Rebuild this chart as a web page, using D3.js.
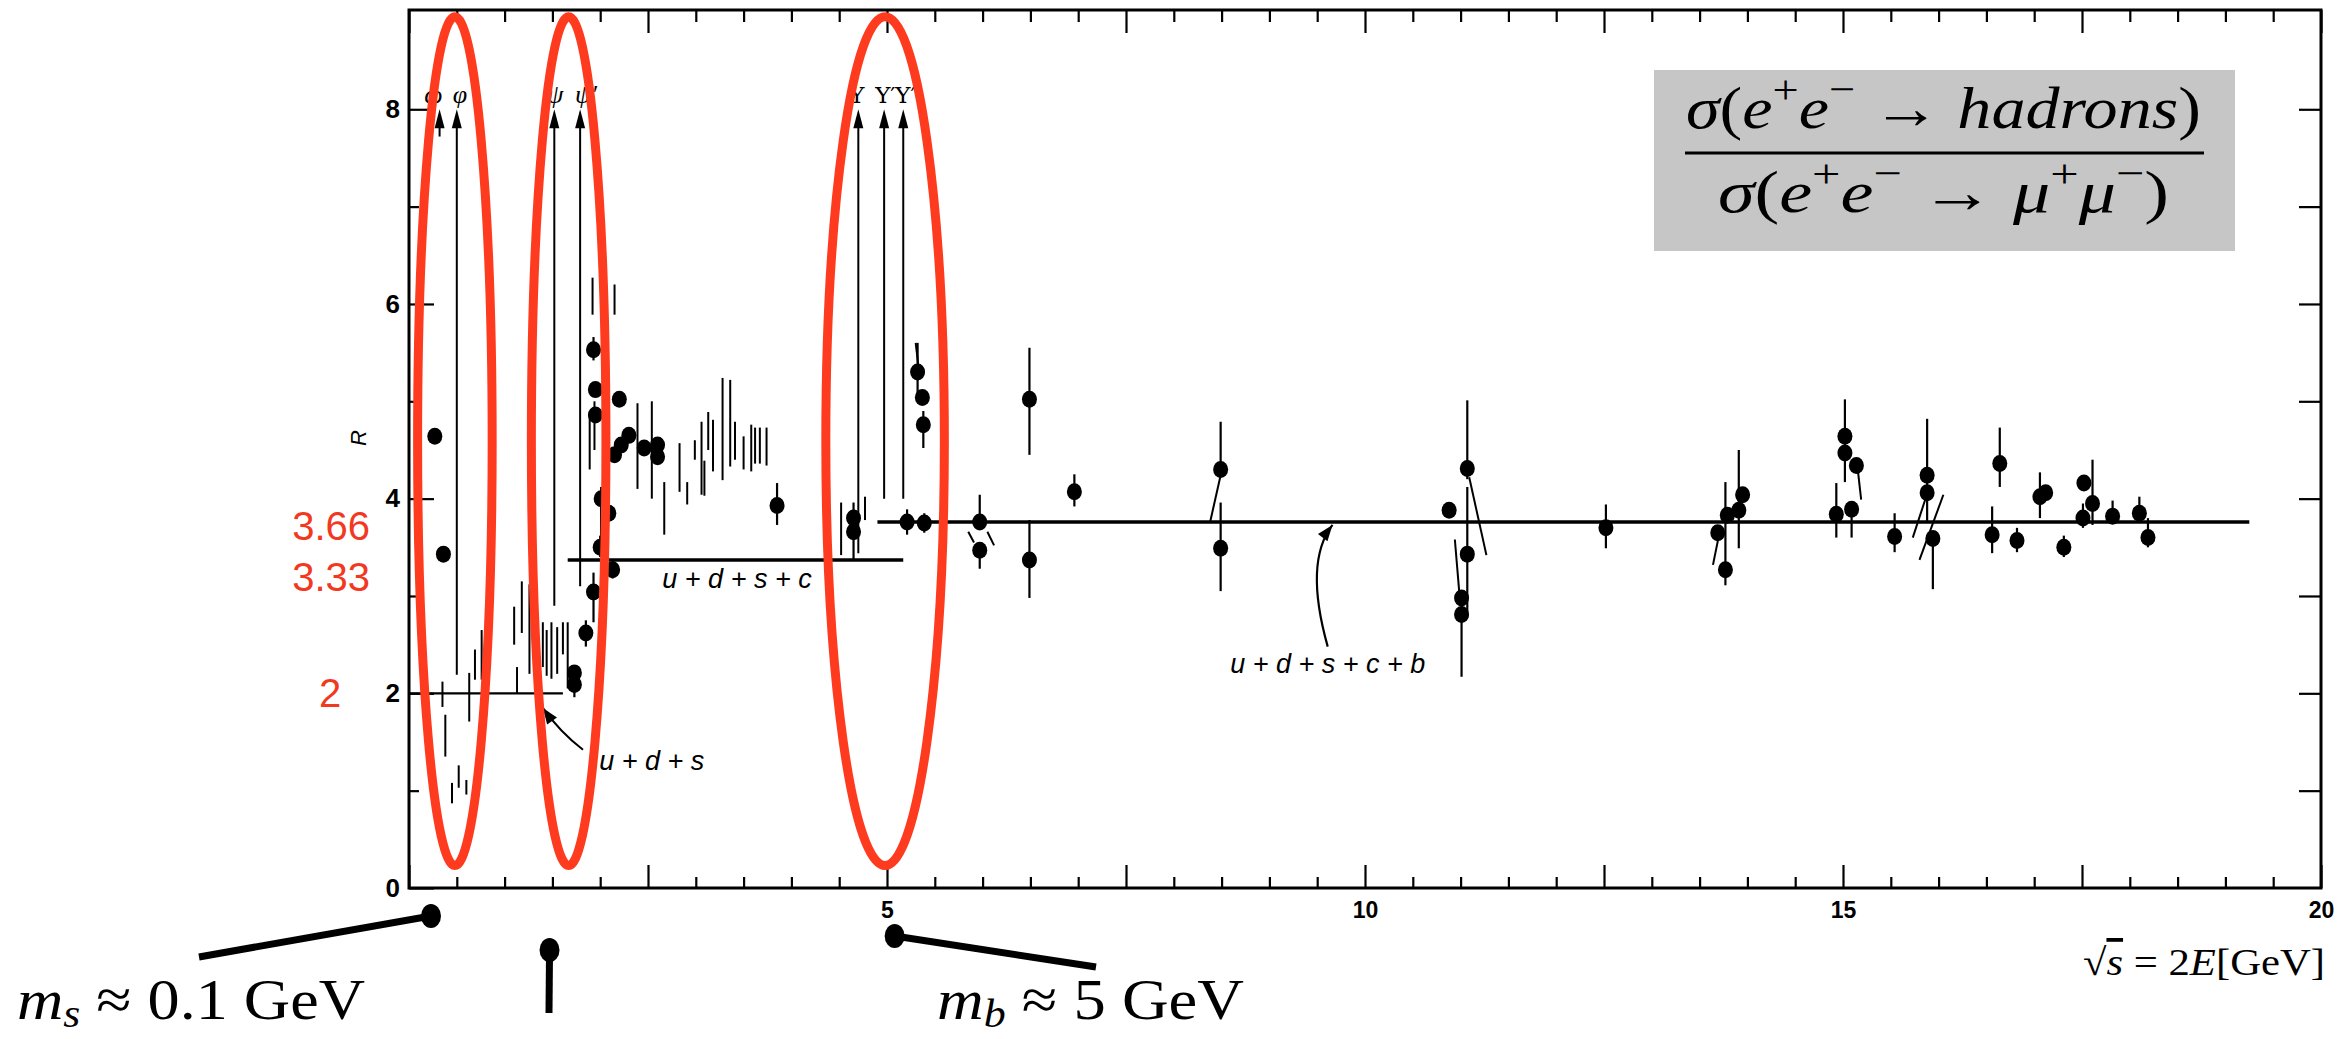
<!DOCTYPE html>
<html>
<head>
<meta charset="utf-8">
<script src="https://cdn.jsdelivr.net/npm/d3@7"></script>
<style>
body{margin:0;background:#fff;}
svg{display:block;}
</style>
</head>
<body>
<script>
const W = 2342, H = 1039;
const svg = d3.select("body").append("svg").attr("width", W).attr("height", H);
const red = "#ff3b1f";
const serif = "'Liberation Serif', 'DejaVu Serif', serif";
const sans = "'Liberation Sans', Arial, sans-serif";

// axis ticks / labels (x is the relabelled energy axis)
const xLabels = [5, 10, 15, 20];
const xMajor = [0, 2.5, 5, 7.5, 10, 12.5, 15, 17.5, 20];
const xMinor = [0.5,1,1.5,2,3,3.5,4,4.5,5.5,6,6.5,7,8,8.5,9,9.5,10.5,11,11.5,12,13,13.5,14,14.5,15.5,16,16.5,17,18,18.5,19,19.5];
const yLabels = [0, 2, 4, 6, 8];
const yMinor = [1, 3, 5, 7];
const yRight = [1, 2, 3, 4, 5, 6, 7, 8];

// measured points: [E, R, bar low, bar high]
const points = [
  [0.27,4.64,null,null],[0.36,3.43,null,null],
  [1.73,2.21,1.96,2.27],[1.73,2.09,null,null],[1.85,2.62,2.48,2.75],[1.93,3.04,2.73,3.24],
  [2.00,3.50,3.40,3.62],[2.01,4.00,3.58,4.12],[2.09,3.85,null,null],[2.13,3.27,3.18,3.36],
  [1.93,5.53,5.42,5.66],[1.95,5.12,null,null],[1.95,4.86,null,null],[2.20,5.02,null,null],
  [2.15,4.45,null,null],[2.22,4.55,null,null],[2.30,4.65,null,null],[2.46,4.52,null,null],
  [2.60,4.55,null,null],[2.60,4.43,null,null],
  [3.85,3.93,3.73,4.16],[4.65,3.80,3.37,3.96],[4.65,3.66,null,null],
  [5.21,3.76,3.63,3.89],[5.39,3.75,3.65,3.85],[5.32,5.30,5.05,5.60],[5.37,5.04,null,null],[5.38,4.76,4.52,4.90],
  [5.97,3.76,3.70,4.04],[5.97,3.47,3.28,3.53],[6.49,5.02,4.45,5.55],[6.49,3.37,2.98,3.78],
  [6.96,4.07,3.92,4.25],[8.49,4.30,4.22,4.79],[8.49,3.49,3.05,3.96],
  [10.88,3.88,null,null],[11.07,4.31,4.20,5.01],[11.07,3.43,2.78,4.12],[11.01,2.98,null,null],[11.01,2.81,2.17,2.98],
  [12.52,3.70,3.49,3.94],
  [13.69,3.65,null,null],[13.77,3.27,3.11,4.17],[13.79,3.83,null,null],[13.91,3.88,3.49,4.50],[13.95,4.04,null,null],
  [15.02,4.64,4.17,5.02],[15.02,4.47,null,null],[15.14,4.34,null,null],[14.93,3.84,3.60,4.16],[15.09,3.89,3.60,3.95],
  [15.54,3.61,3.45,3.85],[15.88,4.24,3.75,4.82],[15.88,4.06,null,null],[15.94,3.59,3.07,3.61],
  [16.56,3.63,3.44,3.92],[16.64,4.36,4.12,4.73],[16.82,3.57,3.45,3.70],
  [17.06,4.02,3.80,4.27],[17.12,4.06,null,null],[17.31,3.50,3.40,3.62],
  [17.52,4.16,null,null],[17.61,3.95,3.73,4.40],[17.51,3.80,3.70,3.95],[17.82,3.82,3.76,3.98],
  [18.10,3.85,3.75,4.02],[18.19,3.60,3.50,3.80]
];

// error bars drawn without a dot: [E, low, high]
const bars = [
  [0.35,1.86,2.12],[0.38,1.35,1.78],[0.45,0.87,1.08],[0.52,1.03,1.26],[0.60,0.96,1.11],
  [0.63,1.71,2.21],[0.69,2.14,2.45],[0.76,2.14,2.65],
  [1.10,2.50,2.89],[1.13,2.00,2.27],[1.18,2.62,3.15],[1.26,2.20,3.12],
  [1.40,2.27,2.73],[1.44,2.18,2.65],[1.49,2.15,2.73],[1.55,2.20,2.68],[1.61,2.40,2.73],[1.66,2.05,2.73],
  [1.92,5.89,6.27],[2.15,5.89,6.20],[1.89,4.30,4.85],[1.94,4.50,5.00],[2.39,4.10,4.98],[2.54,4.00,5.00],[2.67,3.63,4.17],
  [2.83,4.07,4.57],[2.91,3.94,4.17],[2.99,4.40,4.60],[3.06,4.04,4.79],[3.09,4.03,4.39],[3.13,4.50,4.89],
  [3.18,4.28,4.81],[3.28,4.19,5.24],[3.36,4.33,5.22],[3.41,4.40,4.79],[3.50,4.30,4.64],[3.58,4.28,4.76],
  [3.62,4.36,4.73],[3.67,4.36,4.73],[3.74,4.34,4.73],
  [4.52,3.42,3.96],[4.77,3.78,4.02]
];

// slanted error bars: [E1, R1, E2, R2]
const stems = [
  [8.38,3.76,8.49,4.24],[11.09,4.22,11.27,3.42],[10.94,3.58,10.99,2.99],[13.64,3.32,13.71,3.66],
  [15.15,4.34,15.19,3.99],[15.73,3.60,15.87,4.02],[15.80,3.37,16.05,4.04],
  [5.85,3.66,5.91,3.55],[6.05,3.66,6.12,3.52],[5.30,5.60,5.33,5.35]
];

// resonances marked with arrows
const resNames = ["ω", "φ", "ψ", "ψ′", "Υ", "Υ′", "Υ″"];
const resE = [0.32, 0.50, 1.52, 1.79, 4.70, 4.97, 5.17];
const resFoot = [7.72, 2.19, 2.90, 3.10, 3.44, 4.00, 4.00];
const resTip = 8.0;

// quark-model expectations
const modelLabels = ["u + d + s", "u + d + s + c", "u + d + s + c + b"];
const modelR = [2.0, 3.37, 3.76];
const modelFrom = [0, 1.66, 4.9];
const modelTo = [1.61, 5.17, 19.25];

// red annotations
const redLabels = ["3.66", "3.33", "2"];
const redLabelR = [3.72, 3.19, 2.0];
const ovalE = [0.48, 1.67, 4.98];
const ovalHalf = [0.39, 0.39, 0.62];
const ovalR = [0.23, 8.95];

const xScale = d3.scaleLinear().domain([0, 20]).range([409, 2321]);
const yScale = d3.scaleLinear().domain([0, 9.02]).range([888, 10]);

let createAxes=()=>{
    svg.append("rect").attr("x", 409).attr("y", 10)
        .attr("width", xScale(20)-xScale(0)).attr("height", yScale(0)-yScale(9.02))
        .attr("fill", "none").attr("stroke", "#000").attr("stroke-width", 3);

    let put=(axis, tr)=>{
        let g = svg.append("g").attr("transform", tr).call(axis);
        g.select(".domain").remove();
        g.selectAll("line").attr("stroke-width", 2.2);
        g.attr("font-family", sans).attr("font-weight", "bold");
        return g;
    };
    put(d3.axisBottom(xScale).tickValues(xMajor).tickSize(-23).tickPadding(14)
        .tickFormat(d=> xLabels.includes(d) ? d : ""), "translate(0,888)").attr("font-size", 23);
    put(d3.axisBottom(xScale).tickValues(xMinor).tickSize(-11).tickFormat(""), "translate(0,888)");
    put(d3.axisTop(xScale).tickValues(xMajor).tickSize(-23).tickFormat(""), "translate(0,10)");
    put(d3.axisTop(xScale).tickValues(xMinor).tickSize(-12).tickFormat(""), "translate(0,10)");
    put(d3.axisLeft(yScale).tickValues(yLabels).tickSize(-25).tickPadding(9), "translate(409,0)").attr("font-size", 26);
    put(d3.axisLeft(yScale).tickValues(yMinor).tickSize(-10).tickFormat(""), "translate(409,0)");
    put(d3.axisRight(yScale).tickValues(yRight).tickSize(-22).tickFormat(""), "translate(2321,0)");

    svg.append("text").attr("transform", "translate(366,438) rotate(-90)")
        .attr("text-anchor", "middle").attr("font-family", sans).attr("font-style", "italic")
        .attr("font-size", 22).text("R");
};

let createModels=()=>{
    svg.selectAll(".model").data(modelR).enter().append("line").attr("class", "model")
        .attr("x1", (d,i)=>xScale(modelFrom[i])).attr("x2", (d,i)=>xScale(modelTo[i]))
        .attr("y1", d=>yScale(d)).attr("y2", d=>yScale(d))
        .attr("stroke", "#000").attr("stroke-width", (d,i)=> i==0 ? 2.2 : 3.5);

    const labelE = [1.99, 2.65, 8.59], labelR = [1.21, 3.08, 2.21];
    svg.selectAll(".mlabel").data(modelLabels).enter().append("text").attr("class", "mlabel")
        .attr("x", (d,i)=>xScale(labelE[i])).attr("y", (d,i)=>yScale(labelR[i]))
        .attr("font-family", sans).attr("font-style", "italic").attr("font-size", 27)
        .attr("xml:space", "preserve").text(d=>d);

    // pointer arrows
    let head=(x, y, ang)=>{
        let a = ang, L = 16, w = 6;
        let bx = x - L*Math.cos(a), by = y - L*Math.sin(a);
        svg.append("path").attr("d", "M"+x+","+y+"L"+(bx + w*Math.sin(a))+","+(by - w*Math.cos(a))
            +"L"+(bx - w*Math.sin(a))+","+(by + w*Math.cos(a))+"Z").attr("fill", "#000");
    };
    let p0 = [xScale(1.82), yScale(1.42)], p1 = [xScale(1.40), yScale(1.85)];
    svg.append("path").attr("d", "M"+p0+"Q"+[xScale(1.58), yScale(1.60)]+" "+p1)
        .attr("fill", "none").attr("stroke", "#000").attr("stroke-width", 2);
    head(p1[0], p1[1], Math.atan2(p1[1]-yScale(1.60), p1[0]-xScale(1.58)));

    let q0 = [xScale(9.61), yScale(2.48)], qc = [xScale(9.36), yScale(3.35)], q1 = [xScale(9.66), yScale(3.73)];
    svg.append("path").attr("d", "M"+q0+"Q"+qc+" "+q1)
        .attr("fill", "none").attr("stroke", "#000").attr("stroke-width", 2.2);
    head(q1[0], q1[1], Math.atan2(q1[1]-qc[1], q1[0]-qc[0]));
};

let plotData=()=>{
    svg.selectAll(".bar").data(bars).enter().append("line").attr("class", "bar")
        .attr("x1", d=>xScale(d[0])).attr("x2", d=>xScale(d[0]))
        .attr("y1", d=>yScale(d[1])).attr("y2", d=>yScale(d[2]))
        .attr("stroke", "#000").attr("stroke-width", 2);

    svg.selectAll(".err").data(points.filter(d=>d[2]!=null)).enter().append("line").attr("class", "err")
        .attr("x1", d=>xScale(d[0])).attr("x2", d=>xScale(d[0]))
        .attr("y1", d=>yScale(d[2])).attr("y2", d=>yScale(d[3]))
        .attr("stroke", "#000").attr("stroke-width", 2.2);

    svg.selectAll(".stem").data(stems).enter().append("line").attr("class", "stem")
        .attr("x1", d=>xScale(d[0])).attr("y1", d=>yScale(d[1]))
        .attr("x2", d=>xScale(d[2])).attr("y2", d=>yScale(d[3]))
        .attr("stroke", "#000").attr("stroke-width", 2);

    svg.selectAll(".dot").data(points).enter().append("ellipse").attr("class", "dot")
        .attr("cx", d=>xScale(d[0])).attr("cy", d=>yScale(d[1]))
        .attr("rx", 7.5).attr("ry", 8.5).attr("fill", "#000");
};

let createResonances=()=>{
    // label placement next to each arrow
    const anchor = ["end", "start", "middle", "start", "start", "start", "start"];
    const nudge = [3, -4, 1, -5, -9, -9, -8];
    resE.forEach((e, i)=>{
        let x = xScale(e), yt = yScale(resTip);
        svg.append("line").attr("x1", x).attr("x2", x).attr("y1", yt + 10).attr("y2", yScale(resFoot[i]))
            .attr("stroke", "#000").attr("stroke-width", 2);
        svg.append("path").attr("d", "M"+x+","+yt+"L"+(x-5)+","+(yt+19)+"L"+(x+5)+","+(yt+19)+"Z")
            .attr("fill", "#000");
        svg.append("text").attr("x", x + nudge[i]).attr("y", yt - 6)
            .attr("text-anchor", anchor[i])
            .attr("font-family", i < 4 ? serif : "'DejaVu Serif', serif")
            .attr("font-size", i < 4 ? 26 : 23)
            .attr("font-style", i < 4 ? "italic" : "normal").text(resNames[i]);
    });
};

let createOvals=()=>{
    svg.selectAll(".oval").data(ovalE).enter().append("ellipse").attr("class", "oval")
        .attr("cx", d=>xScale(d)).attr("rx", (d,i)=>xScale(ovalHalf[i]) - xScale(0))
        .attr("cy", (yScale(ovalR[0]) + yScale(ovalR[1]))/2)
        .attr("ry", (yScale(ovalR[0]) - yScale(ovalR[1]))/2)
        .attr("fill", "none").attr("stroke", red).attr("stroke-width", 9);

    svg.selectAll(".rlabel").data(redLabels).enter().append("text").attr("class", "rlabel")
        .attr("x", (d,i)=> i==2 ? 330 : 370).attr("y", (d,i)=>yScale(redLabelR[i]) + 14)
        .attr("text-anchor", (d,i)=> i==2 ? "middle" : "end")
        .attr("font-family", sans).attr("font-size", 40).attr("fill", "#f2391f").text(d=>d);
};

// text built from [string, kind] pieces: i = italic, sup / sub = raised / lowered
let mathText=(parts, x, y, size, width)=>{
    let t = svg.append("text").attr("x", x).attr("y", y)
        .attr("font-family", serif).attr("font-size", size).attr("xml:space", "preserve");
    let shift = 0;
    parts.forEach(p=>{
        let kind = p[1], target = 0;
        if(kind.includes("sup")) target = -0.42*size;
        if(kind.includes("sub")) target = 0.14*size;
        let s = t.append("tspan").text(p[0]).attr("dy", target - shift);
        shift = target;
        if(kind.includes("i")) s.attr("font-style", "italic");
        if(target != 0) s.attr("font-size", size*0.68);
        if(kind.includes("o")) s.attr("text-decoration", "overline");
    });
    if(width) t.attr("textLength", width).attr("lengthAdjust", "spacingAndGlyphs");
    return t;
};

let createFormula=()=>{
    svg.append("rect").attr("x", 1654).attr("y", 70).attr("width", 581).attr("height", 181)
        .attr("fill", "#c6c6c6");
    mathText([["σ","i"],["(",""],["e","i"],["+","sup"],["e","i"],["−","sup"],[" → ",""],["hadrons","i"],[")",""]],
        1686, 128, 60, 515);
    svg.append("line").attr("x1", 1685).attr("x2", 2204).attr("y1", 153).attr("y2", 153)
        .attr("stroke", "#000").attr("stroke-width", 3);
    mathText([["σ","i"],["(",""],["e","i"],["+","sup"],["e","i"],["−","sup"],[" → ",""],["μ","i"],["+","sup"],["μ","i"],["−","sup"],[")",""]],
        1718, 212, 60, 451);
};

let createBottom=()=>{
    mathText([["√",""],["s","io"],[" = 2",""],["E","i"],["[GeV]",""]], 2083, 975, 38, 242);
    mathText([["m","i"],["s","subi"],[" ≈ 0.1 GeV",""]], 17, 1019, 58, 348);
    mathText([["m","i"],["b","subi"],[" ≈ 5 GeV",""]], 937, 1019, 58, 307);

    const markE = [0.23, 1.47, 5.08];
    const markY = [916, 950, 936];
    const tailX = [199, 549, 1096], tailY = [957, 1013, 967];
    markE.forEach((e, i)=>{
        svg.append("line").attr("x1", xScale(e)).attr("y1", markY[i]).attr("x2", tailX[i]).attr("y2", tailY[i])
            .attr("stroke", "#000").attr("stroke-width", 7);
        svg.append("ellipse").attr("cx", xScale(e)).attr("cy", markY[i]).attr("rx", 10).attr("ry", 12)
            .attr("fill", "#000");
    });
};

createAxes();
createModels();
plotData();
createResonances();
createOvals();
createFormula();
createBottom();
</script>
</body>
</html>
